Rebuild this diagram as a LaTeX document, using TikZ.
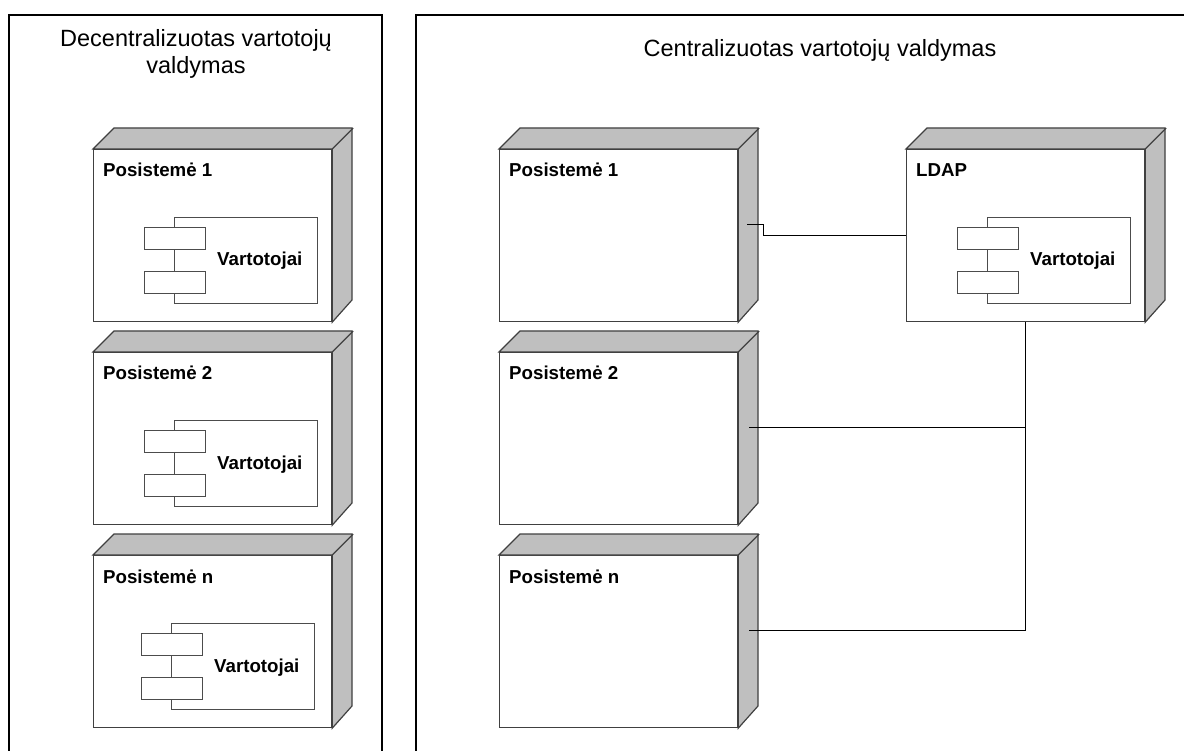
\documentclass[tikz,border=0pt]{standalone}
\usepackage{fontspec}
\setmainfont{Liberation Sans}
\begin{document}
\begin{tikzpicture}[x=1pt,y=-1pt,
  panel/.style={draw=black, line width=1.8pt, inner sep=0pt, anchor=north west},
  title/.style={font=\fontsize{23.5}{27}\selectfont, align=center, inner sep=0pt, anchor=base},
  front/.style={draw=black!75, line width=1.2pt, fill=white, minimum width=238pt,
    minimum height=172pt, inner sep=0pt, anchor=north west},
  sideface/.style={draw=black!75, line width=1.2pt, fill=black!25, line join=miter},
  nlabel/.style={font=\fontsize{18.7}{22}\selectfont\bfseries, inner sep=0pt, anchor=base west},
  comp/.style={draw=black!70, line width=0.9pt, fill=white, minimum width=143pt,
    minimum height=86pt, inner sep=0pt, anchor=north west},
  port/.style={draw=black!70, line width=0.9pt, fill=white, minimum width=61pt,
    minimum height=22pt, inner sep=0pt, anchor=north west},
  conn/.style={draw=black, line width=1pt}]

\useasboundingbox (0,0) rectangle (1184,751);
\clip (0,0) rectangle (1184,751);

% 3D deployment node: name, x, y, label
\newcommand\umlnode[4]{%
  \node[front] (#1) at (#2,#3) {};
  \filldraw[sideface] (#1.north west) -- ++(21,-21) -- ++(238,0) -- ++(0,172)
    -- (#1.south east) -- (#1.north east) -- cycle;
  \draw[sideface] (#1.north east) -- ++(21,-21);
  \node[nlabel] (#1l) at ([shift={(10,28)}]#1.north west) {#4};
}
% component symbol inside a node: name, parent node, horizontal offset
\newcommand\umlcomp[3]{%
  \node[comp] (#1) at ([shift={(81+#3,68)}]#2.north west) {};
  \node[port] (#1a) at ([shift={(51+#3,78)}]#2.north west) {};
  \node[port] (#1b) at ([shift={(51+#3,122)}]#2.north west) {};
  \node[nlabel] (#1t) at ([shift={(124+#3,117)}]#2.north west) {Vartotojai};
}

% frames
\node[panel, minimum width=373pt, minimum height=780pt] (dec) at (8,14) {};
\node[panel, minimum width=830pt, minimum height=780pt] (cen) at (415,14) {};
\node[title] (dect) at (196,74) {Decentralizuotas vartotojų\\valdymas};
\node[title] (cent) at (820,57) {Centralizuotas vartotojų valdymas};

% decentralised subsystems
\umlnode{A1}{93}{149}{Posistemė 1}
\umlcomp{CA1}{A1}{0}
\umlnode{A2}{93}{352}{Posistemė 2}
\umlcomp{CA2}{A2}{0}
\umlnode{An}{93}{555}{Posistemė n}
\umlcomp{CAn}{An}{-3}

% centralised subsystems
\umlnode{B1}{499}{149}{Posistemė 1}
\umlnode{B2}{499}{352}{Posistemė 2}
\umlnode{Bn}{499}{555}{Posistemė n}
\umlnode{L}{906}{149}{LDAP}
\umlcomp{CL}{L}{0}

% links to LDAP
\coordinate (p1) at ([shift={(9,-11)}]B1.east);
\coordinate (p2) at ([shift={(11,-11)}]B2.east);
\coordinate (pn) at ([shift={(11,-11)}]Bn.east);
\draw[conn] (p1) -- ++(16,0) |- (L.west);
\draw[conn] (L.south) |- (pn);
\draw[conn] (p2) -- (L.south |- p2);
\end{tikzpicture}
\end{document}
